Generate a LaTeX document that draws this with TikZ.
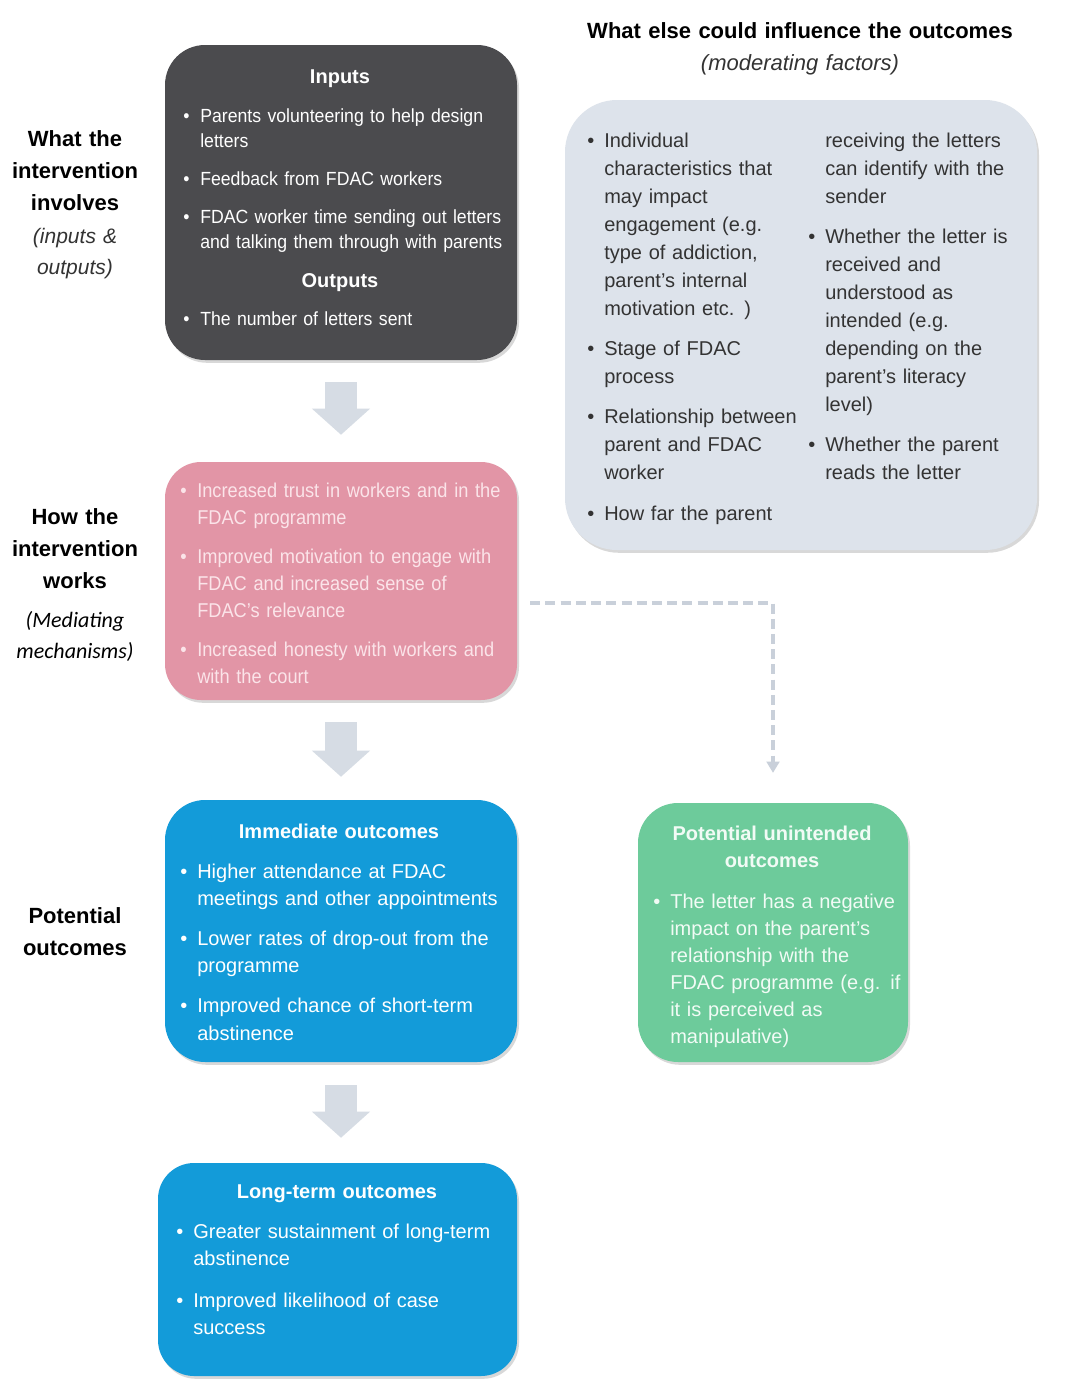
\documentclass[tikz,border=0pt]{standalone}
\usepackage{fontspec}
\setmainfont{Liberation Sans}
\newfontfamily\condsf{Liberation Sans}[FakeStretch=0.93]
\newfontfamily\pinksf{Liberation Sans}[FakeStretch=0.91]
\newfontfamily\calisf{Carlito}
\usetikzlibrary{positioning,fit,shadows,arrows.meta}

\definecolor{inputgray}{HTML}{4B4B4E}
\definecolor{modblue}{HTML}{DDE3EB}
\definecolor{mechpink}{HTML}{E295A6}
\definecolor{outblue}{HTML}{139BD9}
\definecolor{sidegreen}{HTML}{6DCB9B}
\definecolor{arrowgray}{HTML}{D6DCE4}
\definecolor{dashgray}{HTML}{C9D0DA}
\definecolor{pinktext}{HTML}{FBE4E9}
\definecolor{greentext}{HTML}{F1FBF5}
\definecolor{darktext}{HTML}{333333}

\newlength{\bulsep}\setlength{\bulsep}{0.425cm}
\newlength{\itemgap}
\newcommand{\itm}[1]{\noindent\hangindent=\bulsep\hangafter=1%
  {\let\\\newline\makebox[\bulsep][l]{\textbullet}#1}\par}
\newcommand{\cnt}[1]{\noindent\hangindent=\bulsep\hangafter=0%
  {\let\\\newline#1}\par}
\newcommand{\itmgap}{\vspace{\itemgap}}

\begin{document}
\begin{tikzpicture}[x=0.025cm,y=-0.025cm,
  box/.style={rounded corners=1cm, inner sep=0pt,
    drop shadow={shadow xshift=0.05cm,shadow yshift=-0.07cm,opacity=0.3}},
  head/.style={anchor=base, inner sep=0pt, text width=8cm, align=center,
    font=\bfseries\fontsize{14.23}{19.2}\selectfont},
  list/.style 2 args={anchor=base west, inner sep=0pt, text width=#1,
    execute at begin node={\setlength{\itemgap}{#2}}},
  side/.style={anchor=base, inner sep=0pt, text width=4cm, align=center, text=black},
  bigarrow/.style={draw=arrowgray, line width=0.8cm,
    -{Triangle[width=1.45cm,length=0.65cm,line width=0pt]}},
  dashlink/.style={draw=dashgray, line width=0.1cm, dash pattern=on 0.25cm off 0.13cm,
    -{Triangle[width=0.34cm,length=0.28cm,line width=0pt]}}]

\fill[white] (0,0) rectangle (1080,1381);
\useasboundingbox (0,0) rectangle (1080,1381);

% row labels
\node[side, font=\bfseries\fontsize{15.65}{22.76}\selectfont] (whatlab) at (75,146)
  {What the\\intervention\\involves};
\node[side, font=\itshape\fontsize{14.94}{22.05}\selectfont, text=darktext] (whatsub) at (75,243)
  {(inputs \&\\outputs)};
\node[side, font=\bfseries\fontsize{15.65}{22.76}\selectfont] (howlab) at (75,524)
  {How the\\intervention\\works};
\node[side, font=\calisf\itshape\fontsize{15.65}{22.05}\selectfont] (howsub) at (75,627)
  {(Mediating\\mechanisms)};
\node[side, font=\bfseries\fontsize{15.65}{22.76}\selectfont] (potlab) at (75,923)
  {Potential\\outcomes};

% moderating factors
\node[head, text width=13cm, font=\bfseries\fontsize{15.65}{22}\selectfont] (modtitle) at (800,38)
  {What else could influence the outcomes};
\node[head, text width=13cm, font=\itshape\fontsize{15.65}{22}\selectfont, text=darktext] (modsub) at (800,70)
  {(moderating factors)};
\node[box, fill=modblue, rounded corners=1.3cm, fit={(565,100) (1037,550)}] (moderating) {};
\node[list={6cm}{0.31cm}, text=darktext, font=\fontsize{14.23}{19.92}\selectfont] (modcol1) at (587,147) {%
  \itm{Individual\\characteristics that\\may impact\\engagement (e.g.\\type of addiction,\\parent’s internal\\motivation etc. )}\itmgap
  \itm{Stage of FDAC\\process}\itmgap
  \itm{Relationship between\\parent and FDAC\\worker}\itmgap
  \itm{How far the parent}};
\node[list={6cm}{0.31cm}, text=darktext, font=\fontsize{14.23}{19.92}\selectfont] (modcol2) at (808,147) {%
  \cnt{receiving the letters\\can identify with the\\sender}\itmgap
  \itm{Whether the letter is\\received and\\understood as\\intended (e.g.\\depending on the\\parent’s literacy\\level)}\itmgap
  \itm{Whether the parent\\reads the letter}};

% inputs and outputs
\node[box, fill=inputgray, fit={(165,45) (517,360)}] (inputs) {};
\node[head, text=white] (inhead) at (340,83) {Inputs};
\node[list={9cm}{0.325cm}, text=white, font=\condsf\fontsize{13.52}{17.78}\selectfont] (inlist) at (183,122) {%
  \itm{Parents volunteering to help design\\letters}\itmgap
  \itm{Feedback from FDAC workers}\itmgap
  \itm{FDAC worker time sending out letters\\and talking them through with parents}};
\node[head, text=white] (outhead) at (340,287) {Outputs};
\node[list={9cm}{0cm}, text=white, font=\condsf\fontsize{13.52}{17.78}\selectfont] (outlist) at (183,325) {%
  \itm{The number of letters sent}};

% mediating mechanisms
\node[box, fill=mechpink, rounded corners=0.9cm, fit={(165,462) (517,700)}] (mech) {};
\node[list={9cm}{0.3cm}, text=pinktext, font=\pinksf\fontsize{14.23}{19.21}\selectfont] (mechlist) at (180,497) {%
  \itm{Increased trust in workers and in the\\FDAC programme}\itmgap
  \itm{Improved motivation to engage with\\FDAC and increased sense of\\FDAC’s relevance}\itmgap
  \itm{Increased honesty with workers and\\with the court}};

% immediate outcomes
\node[box, fill=outblue, fit={(165,800) (517,1062)}] (immed) {};
\node[head, text=white] (immhead) at (339,838) {Immediate outcomes};
\node[list={9cm}{0.31cm}, text=white, font=\fontsize{14.23}{19.56}\selectfont] (immlist) at (180,878) {%
  \itm{Higher attendance at FDAC\\meetings and other appointments}\itmgap
  \itm{Lower rates of drop-out from the\\programme}\itmgap
  \itm{Improved chance of short-term\\abstinence}};

% unintended outcomes
\node[box, fill=sidegreen, fit={(638,803) (908,1062)}] (unint) {};
\node[head, text=greentext] (unhead) at (772,840) {Potential unintended\\outcomes};
\node[list={7cm}{0cm}, text=greentext, font=\fontsize{14.23}{19.21}\selectfont] (unlist) at (653,908) {%
  \itm{The letter has a negative\\impact on the parent’s\\relationship with the\\FDAC programme (e.g. if\\it is perceived as\\manipulative)}};

% long-term outcomes
\node[box, fill=outblue, rounded corners=0.9cm, fit={(158,1163) (517,1376)}] (longt) {};
\node[head, text=white] (longhead) at (337,1198) {Long-term outcomes};
\node[list={9cm}{0.375cm}, text=white, font=\fontsize{14.23}{19.21}\selectfont] (longlist) at (176,1238) {%
  \itm{Greater sustainment of long-term\\abstinence}\itmgap
  \itm{Improved likelihood of case\\success}};

% arrows
\draw[bigarrow, shorten <=0.55cm, shorten >=0.675cm] (inputs.south) -- (mech.north);
\draw[bigarrow, shorten <=0.55cm, shorten >=0.575cm] (mech.south) -- (immed.north);
\draw[bigarrow, shorten <=0.575cm, shorten >=0.625cm] (immed.south) -- (immed.south |- longt.north);
\draw[dashlink, shorten <=0.325cm, shorten >=0.75cm] ([yshift=-0.55cm]mech.east) -| (unint.north);
\end{tikzpicture}
\end{document}
